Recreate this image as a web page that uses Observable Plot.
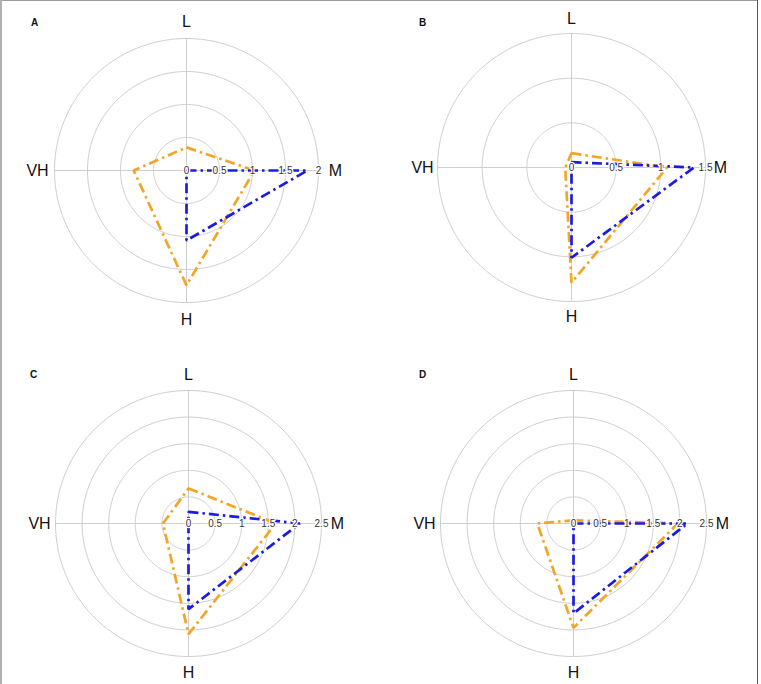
<!DOCTYPE html>
<html>
<head>
<meta charset="utf-8">
<script src="https://cdn.jsdelivr.net/npm/d3@7"></script>
<script src="https://cdn.jsdelivr.net/npm/@observablehq/plot@0.6"></script>
<style>
  html, body { margin: 0; padding: 0; background: #fff; }
  #fig { position: relative; width: 761px; height: 684px; overflow: hidden; font-family: "Liberation Sans", Arial, sans-serif; }
  .panel { position: absolute; }
  .edge { position: absolute; }
</style>
</head>
<body>
<div id="fig">
  <div class="edge" style="left:0;top:0;width:758px;height:1px;background:#9a9a9a"></div>
  <div class="edge" style="left:0;top:0;width:2px;height:684px;background:#b0b0b0"></div>
  <div class="edge" style="left:757px;top:0;width:1px;height:684px;background:#555"></div>
</div>
<script>
// Radar axes, clockwise from the top
const axes = ["L", "M", "H", "VH"];

// Panel letters
const panelNames = ["A", "B", "C", "D"];

// Values on each axis (L, M, H, VH) for the two series
const blueA = [0, 1.83, 1.06, 0];
const orangeA = [0.35, 1.03, 1.74, 0.8];
const blueB = [0.06, 1.37, 1.01, 0];
const orangeB = [0.16, 1.07, 1.29, 0.07];
const blueC = [0.22, 2.09, 1.61, 0];
const orangeC = [0.66, 1.64, 2.08, 0.48];
const blueD = [0, 2.14, 1.69, 0];
const orangeD = [0.06, 1.96, 1.96, 0.68];

// Ring values and their labels along the M axis
const ticksA = [0, 0.5, 1, 1.5, 2];
const ticksB = [0, 0.5, 1, 1.5];
const ticksC = [0, 0.5, 1, 1.5, 2, 2.5];
const ticksD = [0, 0.5, 1, 1.5, 2, 2.5];
const tickLabelsA = ["0", "0.5", "1", "1.5", "2"];
const tickLabelsB = ["0", "0.5", "1", "1.5"];
const tickLabelsC = ["0", "0.5", "1", "1.5", "2", "2.5"];
const tickLabelsD = ["0", "0.5", "1", "1.5", "2", "2.5"];

const BLUE = "#1c1ce0";
const ORANGE = "#f2a526";
const GRID = "#cfcfcf";

const layout = [
  {left: 0,   top: 0,   cx: 186, cy: 170, r: 132, lx: 34,  ly: 18},
  {left: 380, top: 0,   cx: 191, cy: 167, r: 134, lx: 42,  ly: 18},
  {left: 0,   top: 342, cx: 188, cy: 181, r: 133, lx: 33,  ly: 28},
  {left: 380, top: 342, cx: 193, cy: 181, r: 133, lx: 42,  ly: 28}
];

const series = [
  [blueA, orangeA], [blueB, orangeB], [blueC, orangeC], [blueD, orangeD]
];
const ticks = [ticksA, ticksB, ticksC, ticksD];
const tickLabels = [tickLabelsA, tickLabelsB, tickLabelsC, tickLabelsD];

// angle of each axis, measured clockwise from the top
const angle = i => (i * Math.PI) / 2;

function polygon(values, name) {
  return values.map((v, i) => ({
    series: name,
    axis: axes[i],
    x: v * Math.sin(angle(i)),
    y: v * Math.cos(angle(i))
  }));
}

function ringPoints(radii) {
  const pts = [];
  radii.filter(d => d > 0).forEach(rv => {
    for (let k = 0; k <= 180; k++) {
      const a = (k / 180) * 2 * Math.PI;
      pts.push({ring: rv, x: rv * Math.sin(a), y: rv * Math.cos(a)});
    }
  });
  return pts;
}

const fig = document.getElementById("fig");

panelNames.forEach((name, p) => {
  const L = layout[p];
  const tk = ticks[p];
  const R = tk[tk.length - 1];
  const labelR = R * (149 / L.r);
  const [blue, orange] = series[p];
  const dash = {strokeWidth: 2.7, strokeDasharray: "10,4,2.5,4", strokeLinejoin: "miter", strokeLinecap: "butt", curve: "linear-closed"};

  const chart = Plot.plot({
    width: 380,
    height: 342,
    margin: 0,
    x: {domain: [-R, R], range: [L.cx - L.r, L.cx + L.r], axis: null},
    y: {domain: [-R, R], range: [L.cy + L.r, L.cy - L.r], axis: null},
    style: {fontFamily: "'Liberation Sans', Arial, sans-serif", background: "transparent"},
    marks: [
      Plot.line(ringPoints(tk), {x: "x", y: "y", z: "ring", stroke: GRID, strokeWidth: 1}),
      Plot.ruleX([0], {y1: -R, y2: R, stroke: GRID, strokeWidth: 1}),
      Plot.ruleY([0], {x1: -R, x2: R, stroke: GRID, strokeWidth: 1}),
      Plot.line(polygon(orange, "orange"), {x: "x", y: "y", stroke: ORANGE, ...dash}),
      Plot.line(polygon(blue, "blue"), {x: "x", y: "y", stroke: BLUE, ...dash}),
      Plot.text(tk, {
        x: d => d, y: 0, text: (d, i) => tickLabels[p][i],
        fontSize: 10, fill: "#333", stroke: "white", strokeWidth: 2.5
      }),
      Plot.text(axes, {
        x: (d, i) => labelR * Math.sin(angle(i)),
        y: (d, i) => labelR * Math.cos(angle(i)),
        text: d => d, fontSize: 16, fill: "#111"
      }),
      Plot.text([name], {
        frameAnchor: "top-left", dx: L.lx, dy: L.ly,
        text: d => d, fontSize: 10, fontWeight: "bold", fill: "#111", textAnchor: "middle"
      })
    ]
  });
  chart.classList.add("panel");
  chart.style.left = L.left + "px";
  chart.style.top = L.top + "px";
  fig.appendChild(chart);
});
</script>
</body>
</html>
